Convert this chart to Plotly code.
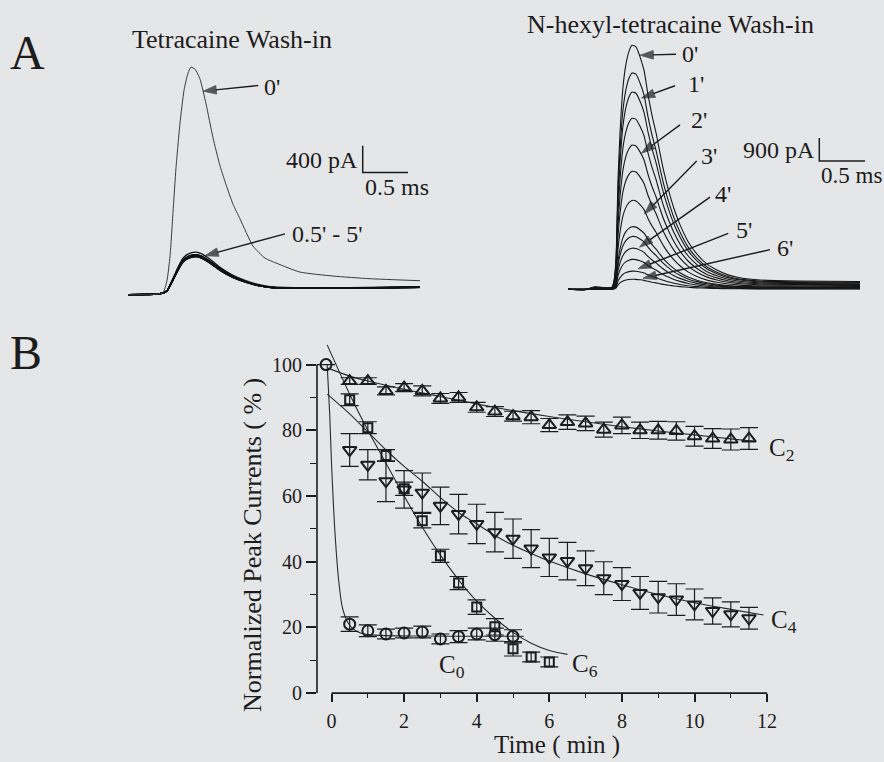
import plotly.graph_objects as go

W, H = 884, 762

# ---------------- DATA ----------------
# Panel A (left): Tetracaine wash-in, time (ms) and current (pA)
tetra_t_ms = [0, 0.243, 0.386, 0.430, 0.464, 0.497, 0.530, 0.574, 0.618, 0.662, 0.695,
              0.740, 0.795, 0.861, 0.938, 1.015, 1.093, 1.159, 1.236, 1.380, 1.512,
              1.645, 1.898, 2.263, 2.671, 3.223]
tetra_0min_pA = [0, 0, 30, 210, 580, 1240, 1910, 2580, 3070, 3330, 3420,
                 3390, 3240, 2870, 2360, 1940, 1610, 1360, 1140, 730, 550,
                 470, 340, 280, 240, 210]
tetra_wash_t_ms = [0, 0.353, 0.430, 0.486, 0.552, 0.607, 0.662, 0.740, 0.795, 0.905,
                   1.015, 1.159, 1.291, 1.435, 1.567, 1.898, 2.450, 3.223]
tetra_wash_shape = [0, 0.024, 0.095, 0.333, 0.643, 0.857, 0.952, 1.0, 0.976, 0.833,
                    0.643, 0.452, 0.333, 0.238, 0.19, 0.167, 0.167, 0.19]
tetra_wash_peaks_pA = [640, 600, 590, 590, 600, 570, 575, 590, 600, 575]   # 0.5' .. 5'

# Panel A (right): N-hexyl-tetracaine wash-in
hexyl_t_ms = [0, 0.186, 0.295, 0.405, 0.481, 0.503, 0.525, 0.547, 0.569, 0.602, 0.635,
              0.667, 0.700, 0.744, 0.788, 0.832, 0.875, 0.919, 0.963, 1.007, 1.050,
              1.105, 1.160, 1.225, 1.313, 1.411, 1.521, 1.630, 1.751, 1.882, 2.101,
              2.538, 3.195]
hexyl_shape = [0, -0.002, 0.010, 0.006, 0.008, 0.034, 0.123, 0.45, 0.64, 0.83, 0.925,
               0.975, 1.0, 0.994, 0.953, 0.897, 0.798, 0.713, 0.642, 0.557, 0.480,
               0.399, 0.330, 0.265, 0.196, 0.144, 0.103, 0.079, 0.059, 0.047, 0.038,
               0.034, 0.032]
hexyl_minutes = [0, 0.5, 1, 1.5, 2, 2.5, 3, 3.5, 4, 4.5, 5, 5.5, 6]
hexyl_peaks_pA = [9560, 8480, 7730, 6700, 5650, 4620, 3480, 2450, 2070, 1610, 1170, 710, 390]

scale_left = {"pA": 400, "ms": 0.5}
scale_right = {"pA": 900, "ms": 0.5}

# Panel B: normalized peak currents (%) vs time (min)
c0_time = [-0.15, 0.5, 1, 1.5, 2, 2.5, 3, 3.5, 4, 4.5, 5]
c0_val = [100, 21, 19, 18, 18.3, 18.6, 16.5, 17.2, 18, 17.8, 17.3]
c0_err = [0, 2.2, 1.8, 1.5, 1.5, 1.8, 1.5, 1.8, 1.8, 2.0, 2.0]

c6_time = [0.5, 1, 1.5, 2, 2.5, 3, 3.5, 4, 4.5, 5, 5.5, 6]
c6_val = [89.3, 80.8, 72.3, 62.2, 52.5, 41.8, 33.5, 26.2, 20.2, 13.5, 11, 9.5]
c6_err = [1.8, 1.8, 1.8, 2, 2.2, 2, 2, 2.2, 2.5, 2.2, 1.5, 1.5]

c4_time = [0.5, 1, 1.5, 2, 2.5, 3, 3.5, 4, 4.5, 5, 5.5, 6, 6.5, 7, 7.5, 8, 8.5, 9, 9.5,
           10, 10.5, 11, 11.5]
c4_val = [74, 69.5, 64.5, 62, 61, 57, 54.5, 51.5, 49, 47, 44, 41.3, 40.2, 38, 35, 33.2,
          30.5, 29.2, 28.5, 27, 25, 24, 22.8]
c4_err = [5, 4.6, 6.2, 5.7, 6, 5.7, 6, 6, 6, 6, 5.8, 5.8, 5.7, 5.3, 5, 5, 5, 4.8, 4.8,
          4.7, 4, 3.8, 3.3]

c2_time = c4_time
c2_val = [95, 95, 92, 93, 92, 89.7, 90, 87, 85.7, 84.3, 84, 81.6, 82.5, 82.1, 80.2,
          81.5, 80, 80, 79.8, 78.2, 77.5, 77.2, 77.5]
c2_err = [1.0, 1.0, 1.2, 1.2, 1.5, 1.5, 1.5, 1.5, 1.5, 1.5, 2.0, 2.0, 2.2, 2.2, 2.3,
          2.5, 2.5, 2.7, 2.8, 3.0, 3.0, 3.2, 3.3]

# fitted curves
fit_c0_t = [-0.12, -0.05, 0, 0.1, 0.2, 0.3, 0.45, 0.6, 0.8, 1, 1.5, 2.5, 4, 5.3]
fit_c0_y = [100, 85, 70, 48, 34, 26, 21.5, 19.5, 18.3, 17.8, 17.5, 17.4, 17.3, 17.3]
fit_c6_t = [-0.12, 0.5, 1, 1.5, 2, 2.5, 3, 3.5, 4, 4.5, 5, 5.5, 6, 6.5]
fit_c6_y = [106, 91, 80, 70, 60, 50.5, 42, 34.5, 28, 22.8, 18.5, 15.2, 13, 11.8]
fit_c4_t = [-0.12, 0.5, 1, 1.5, 2, 2.5, 3, 3.5, 4, 4.5, 5, 5.5, 6, 7, 8, 9, 10, 11, 11.9]
fit_c4_y = [91, 85, 79.5, 74, 69, 64.5, 59.5, 55, 51.5, 48, 45, 42.5, 40.2, 36.3, 33,
            30, 27.5, 25.5, 23.8]
fit_c2_t = [-0.12, 0.5, 1, 2, 3, 4, 5, 6, 7, 8, 9, 10, 11, 11.7]
fit_c2_y = [99, 96.5, 95, 92.5, 90.3, 88, 86, 84.2, 82.6, 81.1, 79.8, 78.6, 77.4, 76.6]

x_ticks = [0, 2, 4, 6, 8, 10, 12]
y_ticks = [0, 20, 40, 60, 80, 100]

# ---------------- STYLE / LAYOUT ----------------
INK = "#1c1c1c"
BG = "#e5e6e8"
FONT = "Liberation Serif"


def fx(px):
    return px / W


def fy(py):
    return 1 - py / H


# pixel mapping of panel-A axes
L_T0, L_PXMS, L_I0, L_PXPA = 128, 90.6, 299, 27 / 400
R_T0, R_PXMS, R_I0, R_PXPA = 568, 91.4, 293.5, 23.3 / 900

fig = go.Figure()

# ---- Panel A left
for pk in tetra_wash_peaks_pA:
    fig.add_trace(go.Scatter(x=tetra_wash_t_ms, y=[s * pk for s in tetra_wash_shape],
                             mode="lines", line=dict(color="#111", width=1.4, shape="spline", smoothing=0.5),
                             xaxis="x2", yaxis="y2", hoverinfo="skip"))
fig.add_trace(go.Scatter(x=tetra_t_ms, y=tetra_0min_pA, mode="lines",
                         line=dict(color="#3a3a3a", width=1, shape="spline", smoothing=0.5),
                         xaxis="x2", yaxis="y2", hoverinfo="skip"))
# scale bar left
lb_t = (362.7 - L_T0) / L_PXMS
lb_i = (L_I0 - 175) / L_PXPA
fig.add_trace(go.Scatter(x=[lb_t, lb_t, lb_t + scale_left["ms"]],
                         y=[lb_i + scale_left["pA"], lb_i, lb_i],
                         mode="lines", line=dict(color=INK, width=1.5),
                         xaxis="x2", yaxis="y2", hoverinfo="skip"))

# ---- Panel A right
for pk in hexyl_peaks_pA:
    fig.add_trace(go.Scatter(x=hexyl_t_ms, y=[s * pk for s in hexyl_shape],
                             mode="lines", line=dict(color="#161616", width=1.1, shape="spline", smoothing=0.5),
                             xaxis="x3", yaxis="y3", hoverinfo="skip"))
rb_t = (819.3 - R_T0) / R_PXMS
rb_i = (R_I0 - 163.3) / R_PXPA
fig.add_trace(go.Scatter(x=[rb_t, rb_t, rb_t + scale_right["ms"]],
                         y=[rb_i + scale_right["pA"], rb_i, rb_i],
                         mode="lines", line=dict(color=INK, width=1.5),
                         xaxis="x3", yaxis="y3", hoverinfo="skip"))

# ---- Panel B fits
for ft, fv in [(fit_c0_t, fit_c0_y), (fit_c6_t, fit_c6_y), (fit_c4_t, fit_c4_y), (fit_c2_t, fit_c2_y)]:
    fig.add_trace(go.Scatter(x=ft, y=fv, mode="lines",
                             line=dict(color="#2a2a2a", width=1.1, shape="spline", smoothing=0.8),
                             hoverinfo="skip", cliponaxis=False))

# ---- Panel B markers
def series(t, v, e, sym, size):
    return go.Scatter(x=t, y=v, mode="markers",
                      marker=dict(symbol=sym, size=size, color=INK,
                                  line=dict(color=INK, width=2)),
                      error_y=dict(type="data", array=e, visible=True, color=INK,
                                   thickness=1.2, width=9),
                      cliponaxis=False, hoverinfo="skip")


fig.add_trace(series(c2_time, c2_val, c2_err, "triangle-up-open", 12))
fig.add_trace(series(c4_time, c4_val, c4_err, "triangle-down-open", 12))
fig.add_trace(series(c6_time, c6_val, c6_err, "square-open", 9))
fig.add_trace(series(c0_time, c0_val, c0_err, "circle-open", 11))

# ---- label arrows (drawn on a hidden full-page pixel overlay)
arrows_px = [((258.3, 86.7), (203, 92.5)),
             ((285, 237.3), (205, 259.5)),
             ((676, 55), (640, 56)),
             ((675, 87), (641.5, 99.5)),
             ((680, 126.7), (641.5, 155.5)),
             ((696.7, 163.3), (644.5, 217)),
             ((710, 200), (639.5, 250.8)),
             ((728.3, 236.7), (638, 272.8)),
             ((770, 253.3), (643, 282.4))]
for tail, tip in arrows_px:
    fig.add_trace(go.Scatter(x=[tail[0], tip[0]], y=[tail[1], tip[1]], mode="lines+markers",
                             line=dict(color=INK, width=1.4),
                             marker=dict(symbol="arrow", angleref="previous", size=[0, 14],
                                         color=INK, line=dict(color=INK, width=0.8)),
                             xaxis="x4", yaxis="y4", hoverinfo="skip", cliponaxis=False))

# ---- Axes
XB_L, XB_R = 317, 778
YB_B = 703.3
YB_PX = 3.3336
Y_MAX = 107

lt_min, lt_max = (110 - L_T0) / L_PXMS, (440 - L_T0) / L_PXMS
li_min, li_max = (L_I0 - 310) / L_PXPA, (L_I0 - 50) / L_PXPA
rt_min, rt_max = (555 - R_T0) / R_PXMS, (880 - R_T0) / R_PXMS
ri_min, ri_max = (R_I0 - 305) / R_PXPA, (R_I0 - 30) / R_PXPA

hidden = dict(visible=False, showgrid=False, zeroline=False, fixedrange=True)

fig.update_layout(
    width=W, height=H, autosize=False,
    margin=dict(l=0, r=0, t=0, b=0, pad=0),
    paper_bgcolor=BG, plot_bgcolor="rgba(0,0,0,0)",
    showlegend=False,
    font=dict(family=FONT, color=INK, size=20),
    xaxis=dict(domain=[fx(XB_L), fx(XB_R)], range=[-0.4, 12.3], tickvals=x_ticks,
               ticks="outside", ticklen=8, tickwidth=1.5, tickcolor=INK,
               minor=dict(dtick=1, tick0=0, ticks="outside", ticklen=4, tickwidth=1.3, tickcolor=INK),
               showline=False, showgrid=False, zeroline=False, ticklabelstandoff=2,
               tickfont=dict(size=20, family=FONT, color=INK)),
    yaxis=dict(domain=[fy(YB_B), fy(YB_B - Y_MAX * YB_PX)], range=[0, Y_MAX], tickvals=y_ticks,
               ticks="outside", ticklen=10, tickwidth=1.5, tickcolor=INK,
               minor=dict(tickvals=[10, 30, 50, 70, 90], ticks="outside", ticklen=6, tickwidth=1.3, tickcolor=INK),
               showline=False, showgrid=False, zeroline=False,
               tickfont=dict(size=20, family=FONT, color=INK)),
    xaxis2=dict(domain=[fx(110), fx(440)], range=[lt_min, lt_max], anchor="y2", **hidden),
    yaxis2=dict(domain=[fy(310), fy(50)], range=[li_min, li_max], anchor="x2", **hidden),
    xaxis3=dict(domain=[fx(555), fx(880)], range=[rt_min, rt_max], anchor="y3", **hidden),
    yaxis3=dict(domain=[fy(305), fy(30)], range=[ri_min, ri_max], anchor="x3", **hidden),
    xaxis4=dict(domain=[0, 1], range=[0, W], anchor="y4", **hidden),
    yaxis4=dict(domain=[0, 1], range=[H, 0], anchor="x4", **hidden),
)

# axis lines of panel B (detached style)
fig.add_shape(type="line", xref="x", yref="paper", x0=0, x1=12, y0=fy(YB_B), y1=fy(YB_B),
              line=dict(color=INK, width=1.6))
fig.add_shape(type="line", xref="paper", yref="y", x0=fx(XB_L), x1=fx(XB_L), y0=0, y1=100,
              line=dict(color=INK, width=1.6))

ann = []


def text(px, py, s, size, xanchor="center", yanchor="middle", angle=0):
    ann.append(dict(x=fx(px), y=fy(py), xref="paper", yref="paper", text=s, showarrow=False,
                    xanchor=xanchor, yanchor=yanchor, textangle=angle,
                    font=dict(family=FONT, size=size, color=INK)))


text(27, 53, "A", 48)
text(26, 358, "B", 48)
text(232, 40, "Tetracaine Wash-in", 26)
text(670, 25, "N-hexyl-tetracaine Wash-in", 26)

# scale bar labels
text(360, 162, "400 pA", 24, xanchor="right")
text(363, 190, "0.5 ms", 24, xanchor="left")
text(817, 152, "900 pA", 24, xanchor="right")
text(819, 178, "0.5 ms", 23, xanchor="left")

# arrow labels
text(262, 88, "0'", 24, xanchor="left")
text(290, 237, "0.5' - 5'", 24, xanchor="left")
for (px, py), s in [((680, 55), "0'"), ((686, 85), "1'"), ((689, 121.7), "2'"),
                    ((699, 158.3), "3'"), ((713, 196.7), "4'"), ((734, 233.3), "5'"),
                    ((775, 251.7), "6'")]:
    text(px, py, s, 24, xanchor="left")

# panel B titles
text(252, 553, "Normalized Peak Currents ( % )", 26, angle=-90)
text(557, 740, "Time ( min )", 25, yanchor="top")

# series labels
text(767, 456, "C<sub>2</sub>", 25, xanchor="left")
text(769, 631, "C<sub>4</sub>", 25, xanchor="left")
text(570, 675, "C<sub>6</sub>", 25, xanchor="left")
text(437, 676, "C<sub>0</sub>", 25, xanchor="left")

fig.update_layout(annotations=ann)

page_js = (
    "document.body.style.margin='0';"
    "document.body.style.overflow='hidden';"
    "document.body.style.background='%s';" % BG
)

fig.write_html("out.html", config={"displayModeBar": False, "responsive": False},
               post_script=page_js)
